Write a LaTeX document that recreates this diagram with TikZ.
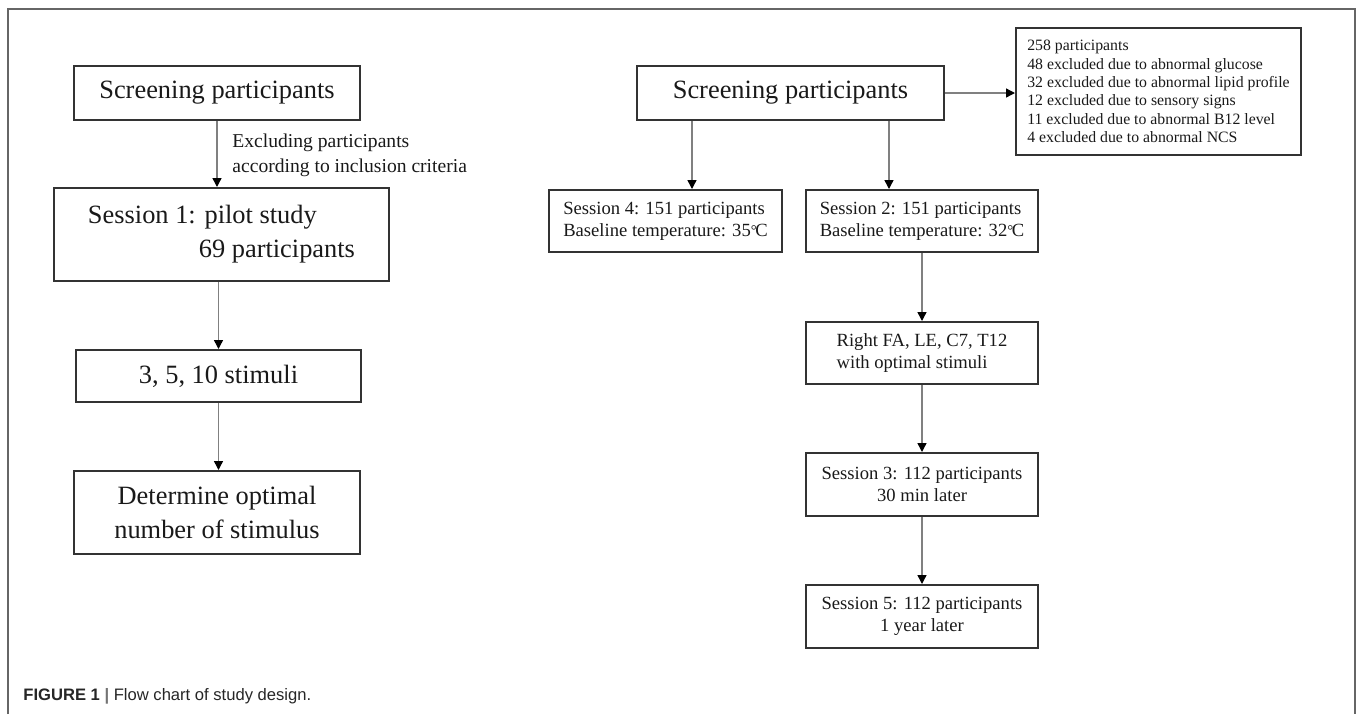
\documentclass[tikz,border=0pt]{standalone}
\usepackage{fontspec}
\setmainfont{Liberation Serif}
\setsansfont{Liberation Sans}
\usetikzlibrary{arrows.meta}
\newcommand{\degC}{\raisebox{0.05em}{\scalebox{0.8}{°}}\kern-0.08em C}

\begin{document}
\begin{tikzpicture}[x=0.5pt,y=-0.5pt,
        box/.style={draw=black!80, line width=1pt, inner sep=0pt, text=black!90},
        bigtxt/.style={font=\fontsize{13.2}{17}\selectfont},
        smalltxt/.style={font=\fontsize{9.3}{10.9}\selectfont, align=left},
        arr/.style={draw=black!50, line width=0.7pt, -{Triangle[length=4.5pt,width=4.5pt,color=black]}}]
        \useasboundingbox (0,0) rectangle (1357,714);
        \draw[black!60, line width=1pt] (8,714) -- (8,9) -- (1355,9) -- (1355,714);

        % left chart
        \node[box, bigtxt, minimum width=143pt, minimum height=27pt] (scrL) at (217,93) {Screening participants};
        \node[box, bigtxt, minimum width=167.5pt, minimum height=46.5pt, align=left] (ses1) at (221.5,234.5)
            {Session 1: pilot study\\\hspace*{4.2em}69 participants};
        \node[box, bigtxt, minimum width=142.5pt, minimum height=26pt] (stim) at (218.5,376) {3, 5, 10 stimuli};
        \node[box, bigtxt, minimum width=143pt, minimum height=41.5pt, align=center] (optm) at (217,512.5)
            {Determine optimal\\number of stimulus};
        \node[anchor=west, align=left, inner sep=0pt, text=black!90, font=\fontsize{9.8}{12.5}\selectfont] (exlab) at (232,155.5)
            {Excluding participants\\according to inclusion criteria};

        \draw[arr] (scrL.south) -- (scrL.south |- ses1.north);
        \draw[arr] (ses1.south -| stim.north) -- (stim.north);
        \draw[arr] (stim.south) -- (stim.south |- optm.north);

        % right chart
        \node[box, bigtxt, minimum width=153.5pt, minimum height=27pt] (scrR) at (790.5,93) {Screening participants};
        \node[box, minimum width=142.5pt, minimum height=63.5pt, align=left, font=\fontsize{7.9}{9.15}\selectfont] (excl) at (1158.5,91.5)
            {258 participants\\48 excluded due to abnormal glucose\\32 excluded due to abnormal lipid profile\\12 excluded due to sensory signs\\11 excluded due to abnormal B12 level\\4 excluded due to abnormal NCS};
        \node[box, smalltxt, minimum width=116.5pt, minimum height=31pt] (ses4) at (665.5,221)
            {Session 4: 151 participants\\Baseline temperature: 35\degC};
        \node[box, smalltxt, minimum width=116pt, minimum height=31pt] (ses2) at (922,221)
            {Session 2: 151 participants\\Baseline temperature: 32\degC};
        \node[box, smalltxt, minimum width=116pt, minimum height=31pt] (rfa) at (922,353)
            {Right FA, LE, C7, T12\\with optimal stimuli};
        \node[box, smalltxt, align=center, minimum width=116pt, minimum height=31.5pt] (ses3) at (922,484.5)
            {Session 3: 112 participants\\30 min later};
        \node[box, smalltxt, align=center, minimum width=116pt, minimum height=31.5pt] (ses5) at (922,616.5)
            {Session 5: 112 participants\\1 year later};

        \draw[arr] ([xshift=28pt]scrR.south west) -- ([xshift=28pt]scrR.south west |- ses4.north);
        \draw[arr] ([xshift=-28pt]scrR.south east) -- ([xshift=-28pt]scrR.south east |- ses2.north);
        \draw[arr] (scrR.east) -- (scrR.east -| excl.west);
        \draw[arr] (ses2) -- (rfa);
        \draw[arr] (rfa) -- (ses3);
        \draw[arr] (ses3) -- (ses5);

        \node[anchor=west, inner sep=0pt, text=black!85, font=\sffamily\fontsize{8.3}{10}\selectfont] (cap) at (23,696)
            {\textbf{FIGURE 1} {\color{black!55}\textbf{|}} Flow chart of study design.};
    \end{tikzpicture}
\end{document}
